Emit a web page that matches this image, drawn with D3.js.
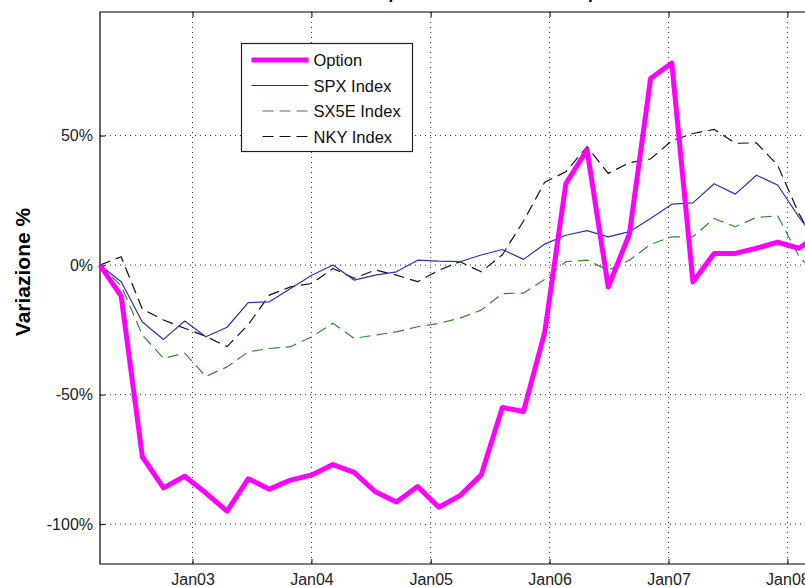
<!DOCTYPE html>
<html>
<head>
<meta charset="utf-8">
<script src="https://cdn.jsdelivr.net/npm/d3@7"></script>
<style>
    body { margin: 0; background: #fff; }
    #chart-area { width: 805px; height: 587px; overflow: hidden; }
    text { font-family: "Liberation Sans", Arial, sans-serif; }
    .grid line { stroke: #333; stroke-width: 1; stroke-dasharray: 1,4; }
    .axis text { font-size: 16px; fill: #222; }
    .axis line { stroke: #000; }
</style>
</head>
<body>
<div id="chart-area"></div>
<script>

// observation dates (roughly every 65 days)
var dates = ["2002-03-23","2002-05-27","2002-07-31","2002-10-04","2002-12-08","2003-02-11",
    "2003-04-17","2003-06-21","2003-08-25","2003-10-29","2004-01-02","2004-03-07",
    "2004-05-11","2004-07-15","2004-09-18","2004-11-22","2005-01-26","2005-04-01",
    "2005-06-05","2005-08-09","2005-10-13","2005-12-17","2006-02-20","2006-04-26",
    "2006-06-30","2006-09-03","2006-11-07","2007-01-11","2007-03-17","2007-05-21",
    "2007-07-25","2007-09-28","2007-12-02","2008-02-05","2008-04-10"];

// variazione % per serie
var option = [0, -12, -74, -86, -81.5, -88, -95, -82.5, -86.5, -83, -81, -77, -80, -87.5,
    -91.5, -85.5, -93.5, -89, -81, -55, -56.5, -26, 31.5, 44.5, -8.5, 12, 72, 78, -6.5,
    4.5, 4.5, 6.5, 8.8, 6.5, 12];
var spx = [0, -6.4, -22, -28.7, -21.6, -27.7, -24, -14.5, -14.2, -9, -3.9, 0, -5.8, -3.9,
    -2.6, 1.9, 1.5, 1.3, 3.9, 6, 2.2, 8.1, 11.5, 13.3, 10.9, 12.9, 18, 23.5, 24, 31.4,
    27.4, 34.7, 30.9, 18.6, 8];
var sx5e = [0, -8, -27, -36, -34, -43, -39.3, -33.5, -32.2, -31.5, -27.7, -22.5, -28.3, -27,
    -25.8, -23.8, -22.5, -20.5, -17.4, -11, -10.8, -5.5, 1.3, 1.9, -2, 1.9, 8, 10.9, 10.9,
    18, 14.8, 18.4, 19, 3.5, -5];
var nky = [0, 3.2, -17, -21.2, -24.4, -27.5, -31.5, -23, -11.6, -8.4, -7.1, -1.3, -5.1, -1.9,
    -3.9, -6.4, -2, 1.3, -2.6, 4, 17, 32, 36, 45.7, 35.4, 39.5, 41, 48, 50.8, 52.4, 47,
    47.2, 38.5, 20, 5];

var seriesNames = ["Option", "SPX Index", "SX5E Index", "NKY Index"];
var yTicks = [-100, -50, 0, 50];
var xTicks = ["2003-01-01","2004-01-01","2005-01-01","2006-01-01","2007-01-01","2008-01-01"];


PerfChart = function(_parentElement){
    this.parentElement = _parentElement;
    this.initVis();
};

PerfChart.prototype.initVis = function(){
    var vis = this;

    vis.margin = { top: 12, left: 100, bottom: 23 };
    vis.width = 720;           // axes run past the right edge of the picture
    vis.height = 587 - vis.margin.top - vis.margin.bottom;

    vis.svg = d3.select("#" + vis.parentElement).append("svg")
        .attr("width", 805)
        .attr("height", 587)
        .append("g")
        .attr("transform", "translate(" + vis.margin.left + "," + vis.margin.top + ")");

    var parse = d3.timeParse("%Y-%m-%d");
    vis.dates = dates.map(parse);
    vis.xTicks = xTicks.map(parse);

    vis.x = d3.scaleTime()
        .domain([vis.dates[0], vis.dates[vis.dates.length - 1]])
        .range([0, vis.width]);

    vis.y = d3.scaleLinear()
        .domain([-115.4, 97.7])
        .range([vis.height, 0]);

    vis.series = [
        { name: seriesNames[0], values: option, color: "#f0f", width: 5, dash: null },
        { name: seriesNames[1], values: spx, color: "#2f2fb8", width: 1.2, dash: null },
        { name: seriesNames[2], values: sx5e, color: "#2f8a2f", width: 1.2, dash: "11,6" },
        { name: seriesNames[3], values: nky, color: "#111", width: 1.2, dash: "11,6" }
    ];

    vis.updateVis();
};

PerfChart.prototype.updateVis = function(){
    var vis = this;

    // dotted grid
    var grid = vis.svg.append("g").attr("class", "grid");
    grid.selectAll(".gx").data(vis.xTicks).enter().append("line")
        .attr("x1", function(d){ return vis.x(d); })
        .attr("x2", function(d){ return vis.x(d); })
        .attr("y1", 0).attr("y2", vis.height);
    grid.selectAll(".gy").data(yTicks).enter().append("line")
        .attr("x1", 0).attr("x2", vis.width)
        .attr("y1", function(d){ return vis.y(d); })
        .attr("y2", function(d){ return vis.y(d); });

    // axes, ticks pointing inward like matlab
    var xAxis = d3.axisBottom(vis.x)
        .tickValues(vis.xTicks)
        .tickFormat(d3.timeFormat("%b%y"))
        .tickSizeInner(-5).tickSizeOuter(0).tickPadding(9.5);
    vis.svg.append("g").attr("class", "axis")
        .attr("transform", "translate(0," + vis.height + ")")
        .call(xAxis)
        .select(".domain").remove();

    var xTop = d3.axisTop(vis.x).tickValues(vis.xTicks).tickFormat("")
        .tickSizeInner(-5).tickSizeOuter(0);
    vis.svg.append("g").attr("class", "axis").call(xTop).select(".domain").remove();

    var yAxis = d3.axisLeft(vis.y)
        .tickValues(yTicks)
        .tickFormat(function(d){ return d + "%"; })
        .tickSizeInner(-5).tickSizeOuter(0).tickPadding(7);
    vis.svg.append("g").attr("class", "axis")
        .call(yAxis)
        .select(".domain").remove();

    // axes box
    vis.svg.append("path")
        .attr("d", "M" + vis.width + ",0H0V" + vis.height + "H" + vis.width)
        .attr("fill", "none").attr("stroke", "#000").attr("stroke-width", 1.2);

    // lines
    var line = d3.line()
        .x(function(d, i){ return vis.x(vis.dates[i]); })
        .y(function(d){ return vis.y(d); });

    vis.svg.selectAll(".series")
        .data(vis.series.slice().reverse())
        .enter().append("path")
        .attr("class", "series")
        .attr("d", function(d){ return line(d.values); })
        .attr("fill", "none")
        .attr("stroke", function(d){ return d.color; })
        .attr("stroke-width", function(d){ return d.width; })
        .attr("stroke-dasharray", function(d){ return d.dash; })
        .attr("stroke-linejoin", "round");

    // legend
    var legend = vis.svg.append("g").attr("transform", "translate(141.5,31.5)");
    legend.append("rect")
        .attr("width", 171).attr("height", 108)
        .attr("fill", "#fff").attr("stroke", "#222").attr("stroke-width", 1.2);

    var items = legend.selectAll(".item")
        .data(vis.series)
        .enter().append("g")
        .attr("transform", function(d, i){ return "translate(0," + (16.5 + i * 25.5) + ")"; });
    items.append("line")
        .attr("x1", function(d){ return d.dash ? 21 : 10; }).attr("x2", 67)
        .attr("y1", 0).attr("y2", 0)
        .attr("stroke", function(d){ return d.color; })
        .attr("stroke-width", function(d){ return d.width; })
        .attr("stroke-dasharray", function(d){ return d.dash; });
    items.append("text")
        .attr("x", 72).attr("y", 6)
        .style("font-size", "16.5px").attr("fill", "#111")
        .text(function(d){ return d.name; });

    // title, mostly above the cropped picture
    vis.svg.append("text")
        .attr("x", 350).attr("y", -13)
        .attr("text-anchor", "middle")
        .style("font-size", "17px").style("font-weight", "bold")
        .attr("fill", "#000")
        .text("Confronto della performance: Indici vs Opzione");

    // y label
    vis.svg.append("text")
        .attr("transform", "translate(" + (30 - vis.margin.left) + "," + (272 - vis.margin.top) + ") rotate(-90)")
        .attr("text-anchor", "middle")
        .style("font-size", "21px").style("font-weight", "bold")
        .attr("fill", "#000")
        .text("Variazione %");
};

new PerfChart("chart-area");

</script>
</body>
</html>
